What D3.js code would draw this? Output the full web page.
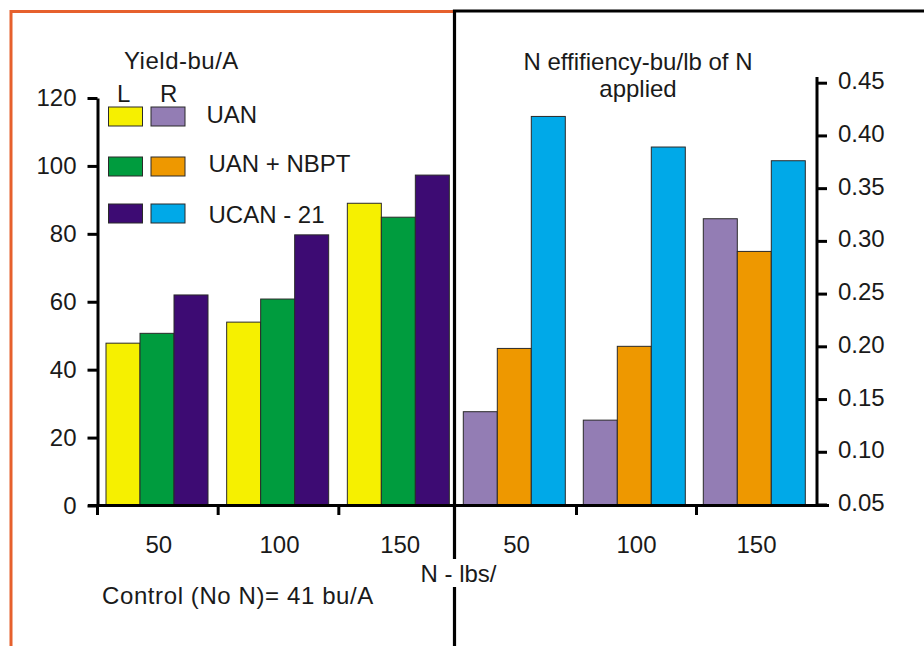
<!DOCTYPE html>
<html>
<head>
<meta charset="utf-8">
<script src="https://cdn.jsdelivr.net/npm/d3@7"></script>
<style>
  html, body { margin: 0; padding: 0; background: #fff; }
  svg { display: block; }
  text { font-family: "Liberation Sans", Arial, Helvetica, sans-serif; fill: #1a1a1a; }
</style>
</head>
<body>
<svg id="chart" width="924" height="646"></svg>
<script>
// ---------- data ----------
const nRates = ["50", "100", "150"];
const seriesNames = ["UAN", "UAN + NBPT", "UCAN - 21"];

// Yield (bu/A), left panel
const yieldUAN  = [47.8, 54.0, 89.0];
const yieldNBPT = [50.7, 60.8, 84.9];
const yieldUCAN = [62.0, 79.7, 97.3];

// N efficiency (bu/lb of N applied), right panel
const effUAN  = [0.138, 0.130, 0.321];
const effNBPT = [0.198, 0.200, 0.290];
const effUCAN = [0.418, 0.389, 0.376];

const yieldTicks = [0, 20, 40, 60, 80, 100, 120];
const effTicks = [0.05, 0.10, 0.15, 0.20, 0.25, 0.30, 0.35, 0.40, 0.45];

const leftColors  = ["#F6F000", "#009C3E", "#3D0B73"];
const rightColors = ["#937DB4", "#EE9800", "#00A9E8"];

// ---------- build ----------
const svg = d3.select("#chart");
const FS = 24;

const yLeft = d3.scaleLinear().domain([0, 120]).range([505.5, 98]);
const yRight = d3.scaleLinear().domain([0.05, 0.45]).range([504.5, 82.7]);

const xLeft = d3.scaleBand().domain(nRates).range([97, 459]);
const xRight = d3.scaleBand().domain(nRates).range([456, 816]);
const innerLeft = d3.scaleBand().domain(seriesNames).range([9, 111]);
const innerRight = d3.scaleBand().domain(seriesNames).range([7.3, 109.3]);

const yieldRows = seriesNames.map((s, i) => ({ name: s, color: leftColors[i], values: [yieldUAN, yieldNBPT, yieldUCAN][i] }));
const effRows = seriesNames.map((s, i) => ({ name: s, color: rightColors[i], values: [effUAN, effNBPT, effUCAN][i] }));

// frames
svg.append("path")
  .attr("d", "M11,646 L11,11.5 L454,11.5")
  .attr("fill", "none").attr("stroke", "#E6602D").attr("stroke-width", 3);
svg.append("path")
  .attr("d", "M454.5,646 L454.5,11 L924,11")
  .attr("fill", "none").attr("stroke", "#000").attr("stroke-width", 3.2);

// left bars
const gL = svg.append("g");
yieldRows.forEach(row => {
  gL.selectAll(null).data(nRates.map((r, j) => ({ r, v: row.values[j] })))
    .join("rect")
    .attr("x", d => xLeft(d.r) + innerLeft(row.name))
    .attr("width", innerLeft.bandwidth())
    .attr("y", d => yLeft(d.v))
    .attr("height", d => yLeft(0) - yLeft(d.v))
    .attr("fill", row.color)
    .attr("stroke", "#2a2a2a").attr("stroke-width", 1);
});

// right bars
const gR = svg.append("g");
effRows.forEach(row => {
  gR.selectAll(null).data(nRates.map((r, j) => ({ r, v: row.values[j] })))
    .join("rect")
    .attr("x", d => xRight(d.r) + innerRight(row.name))
    .attr("width", innerRight.bandwidth())
    .attr("y", d => yRight(d.v))
    .attr("height", d => yRight(0.05) - yRight(d.v))
    .attr("fill", row.color)
    .attr("stroke", "#2a2a2a").attr("stroke-width", 1);
});

// left axis
const axL = svg.append("g").attr("transform", "translate(97.5,0)")
  .call(d3.axisLeft(yLeft).tickValues(yieldTicks).tickSize(10).tickSizeOuter(0).tickPadding(11).tickFormat(d3.format("d")));
axL.select(".domain").attr("stroke", "#000").attr("stroke-width", 3);
axL.selectAll(".tick line").attr("stroke", "#000").attr("stroke-width", 3);
axL.selectAll(".tick text").attr("font-size", FS).attr("font-family", null).attr("fill", "#1a1a1a");

// right axis
const axR = svg.append("g").attr("transform", "translate(817,0)")
  .call(d3.axisRight(yRight).tickValues(effTicks).tickSize(10).tickSizeOuter(0).tickPadding(11).tickFormat(d3.format(".2f")));
axR.select(".domain").attr("d", `M0,${yRight(0.05)}V77`).attr("stroke", "#000").attr("stroke-width", 3);
axR.selectAll(".tick line").attr("stroke", "#000").attr("stroke-width", 3);
axR.selectAll(".tick text").attr("font-size", FS).attr("font-family", null).attr("fill", "#1a1a1a").attr("dy", "0.25em");

// bottom baseline
svg.append("line").attr("x1", 88).attr("x2", 829).attr("y1", 505.5).attr("y2", 505.5)
  .attr("stroke", "#000").attr("stroke-width", 3);
// bottom ticks at band boundaries
const tickXs = [xLeft("50"), xLeft("100"), xLeft("150"), xRight("100"), xRight("150")];
svg.selectAll(null).data(tickXs).join("line")
  .attr("x1", d => d + 0.5).attr("x2", d => d + 0.5)
  .attr("y1", 505.5).attr("y2", 515)
  .attr("stroke", "#000").attr("stroke-width", 3);

// x labels
svg.selectAll(null).data(nRates).join("text")
  .attr("x", d => xLeft(d) + xLeft.bandwidth() / 2 + 1.5)
  .attr("y", 552.5).attr("text-anchor", "middle").attr("font-size", FS).text(d => d);
svg.selectAll(null).data(nRates).join("text")
  .attr("x", d => xRight(d) + xRight.bandwidth() / 2 + 0.5)
  .attr("y", 552.5).attr("text-anchor", "middle").attr("font-size", FS).text(d => d);

// "N - lbs/" label with white backing
svg.append("rect").attr("x", 419).attr("y", 559).attr("width", 80).attr("height", 28).attr("fill", "#fff");
svg.append("text").attr("x", 458.5).attr("y", 581.5).attr("text-anchor", "middle").attr("font-size", FS).text("N - lbs/");

// Control note
svg.append("text").attr("x", 102).attr("y", 604).attr("font-size", FS).attr("letter-spacing", 0.6).text("Control (No N)= 41 bu/A");

// titles
svg.append("text").attr("x", 124).attr("y", 69).attr("font-size", FS).attr("letter-spacing", 0.5).text("Yield-bu/A");
svg.append("text").attr("x", 638).attr("y", 70).attr("text-anchor", "middle").attr("font-size", FS).text("N effifiency-bu/lb of N");
svg.append("text").attr("x", 638).attr("y", 97).attr("text-anchor", "middle").attr("font-size", FS).text("applied");

// legend
svg.append("text").attr("x", 117).attr("y", 101.5).attr("font-size", FS).text("L");
svg.append("text").attr("x", 160).attr("y", 101.5).attr("font-size", FS).text("R");
const legY = [107, 157, 204];
const legTextY = [123.3, 172.3, 222.7];
seriesNames.forEach((s, i) => {
  svg.append("rect").attr("x", 108.5).attr("y", legY[i]).attr("width", 34).attr("height", 19)
    .attr("fill", leftColors[i]).attr("stroke", "#2a2a2a").attr("stroke-width", 1);
  svg.append("rect").attr("x", 151).attr("y", legY[i]).attr("width", 34).attr("height", 19)
    .attr("fill", rightColors[i]).attr("stroke", "#2a2a2a").attr("stroke-width", 1);
  svg.append("text").attr("x", i === 0 ? 206.5 : 208.5).attr("y", legTextY[i]).attr("font-size", FS)
    .attr("xml:space", "preserve").text(s);
});
</script>
</body>
</html>
